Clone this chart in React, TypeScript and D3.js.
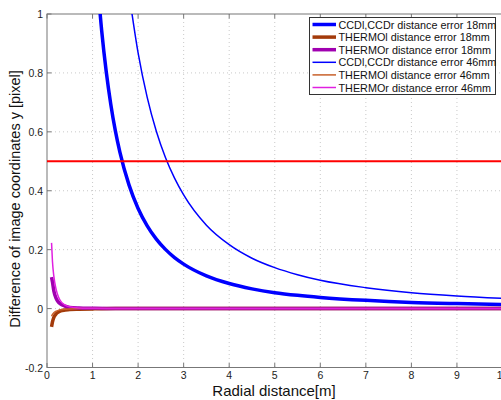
import React, { useEffect, useRef } from 'react';
import * as d3 from 'd3';

// radial distance samples [m]
const xBlue18 = [1.1, 1.2, 1.3, 1.4, 1.5, 1.6, 1.8, 2.0, 2.2, 2.4, 2.6, 2.8, 3.0, 3.5, 4.0, 4.5, 5.0, 5.5, 6.0, 7.0, 8.0, 9.0, 10];
const ccd18 = [1.124, 0.944, 0.805, 0.694, 0.604, 0.531, 0.42, 0.34, 0.281, 0.236, 0.201, 0.173, 0.151, 0.111, 0.085, 0.067, 0.054, 0.045, 0.038, 0.028, 0.021, 0.017, 0.014];

const xBlue46 = [1.8, 2.0, 2.2, 2.4, 2.6, 2.8, 3.0, 3.5, 4.0, 4.5, 5.0, 5.5, 6.0, 7.0, 8.0, 9.0, 10];
const ccd46 = [1.071, 0.868, 0.717, 0.602, 0.513, 0.443, 0.386, 0.283, 0.217, 0.171, 0.139, 0.115, 0.096, 0.071, 0.054, 0.043, 0.035];

const xThermo = [0.1, 0.12, 0.15, 0.2, 0.25, 0.3, 0.4, 0.5, 0.7, 1, 1.5, 2, 3, 5, 10];
const thermoL18 = [-0.062, -0.045, -0.03, -0.018, -0.012, -0.008, -0.005, -0.003, -0.002, -0.001, 0, 0, 0, 0, 0];
const thermoR18 = [0.107, 0.09, 0.06, 0.035, 0.022, 0.015, 0.008, 0.004, 0.002, 0.001, 0, 0, 0, 0, 0];
const thermoL46 = [-0.026, -0.02, -0.014, -0.009, -0.006, -0.004, -0.002, -0.001, 0, 0, 0, 0, 0, 0, 0];
const thermoR46 = [0.223, 0.16, 0.11, 0.065, 0.04, 0.025, 0.012, 0.006, 0.002, 0.001, 0, 0, 0, 0, 0];

const threshold = 0.5;

const xTicks = [0, 1, 2, 3, 4, 5, 6, 7, 8, 9, 10];
const yTicks = [-0.2, 0, 0.2, 0.4, 0.6, 0.8, 1];

const legendLabels = [
  'CCDl,CCDr distance error 18mm',
  'THERMOl distance error 18mm',
  'THERMOr distance error 18mm',
  'CCDl,CCDr distance error 46mm',
  'THERMOl distance error 46mm',
  'THERMOr distance error 46mm',
];

export default function App() {
  const ref = useRef<SVGSVGElement>(null);

  useEffect(() => {
    const svg = d3.select(ref.current);
    svg.selectAll('*').remove();

    const x = d3.scaleLinear().domain([0, 10]).range([47, 502.5]);
    const y = d3.scaleLinear().domain([-0.2, 1]).range([367.5, 14]);
    const font = 'Arial, "Liberation Sans", sans-serif';

    svg.append('rect').attr('width', 501).attr('height', 400).attr('fill', '#fff');

    svg.append('defs').append('clipPath').attr('id', 'plot')
      .append('rect').attr('x', 47).attr('y', 14).attr('width', 460).attr('height', 353.5);

    // grid
    const grid = svg.append('g').attr('stroke', '#bbb').attr('stroke-width', 0.8).attr('stroke-dasharray', '1,3');
    xTicks.slice(1, -1).forEach(t => {
      grid.append('line').attr('x1', x(t)).attr('x2', x(t)).attr('y1', 14).attr('y2', 367.5);
    });
    yTicks.slice(1, -1).forEach(t => {
      grid.append('line').attr('x1', 47).attr('x2', 502).attr('y1', y(t)).attr('y2', y(t));
    });

    // frame + ticks
    const ax = svg.append('g').attr('stroke', '#777').attr('stroke-width', 1).attr('fill', 'none');
    ax.append('rect').attr('x', 47).attr('y', 14).attr('width', 456).attr('height', 353.5);
    xTicks.forEach(t => {
      ax.append('line').attr('x1', x(t)).attr('x2', x(t)).attr('y1', 367.5).attr('y2', 363);
      ax.append('line').attr('x1', x(t)).attr('x2', x(t)).attr('y1', 14).attr('y2', 18.5);
    });
    yTicks.forEach(t => {
      ax.append('line').attr('x1', 47).attr('x2', 51.5).attr('y1', y(t)).attr('y2', y(t));
    });

    const labels = svg.append('g').attr('font-family', font).attr('font-size', 10.5).attr('fill', '#222');
    xTicks.forEach(t => {
      labels.append('text').attr('x', x(t)).attr('y', 379).attr('text-anchor', 'middle').text(String(t));
    });
    yTicks.forEach(t => {
      labels.append('text').attr('x', 43).attr('y', y(t) + 4).attr('text-anchor', 'end').text(String(t));
    });

    svg.append('text').attr('x', 274).attr('y', 395.5).attr('text-anchor', 'middle')
      .attr('font-family', font).attr('font-size', 15).attr('fill', '#111').text('Radial distance[m]');
    svg.append('text').attr('transform', 'translate(20,199) rotate(-90)').attr('text-anchor', 'middle')
      .attr('font-family', font).attr('font-size', 14.5).attr('fill', '#111')
      .text('Difference of image coordinates y [pixel]');

    const plot = svg.append('g').attr('clip-path', 'url(#plot)');

    const line = d3.line<[number, number]>()
      .x(d => x(d[0]))
      .y(d => y(d[1]))
      .curve(d3.curveMonotoneX);

    const series = [
      { xs: xBlue18, ys: ccd18, color: '#0000ff', w: 3.5 },
      { xs: xThermo, ys: thermoL18, color: '#a33a0a', w: 3.5 },
      { xs: xThermo, ys: thermoR18, color: '#a000b0', w: 3.5 },
      { xs: xBlue46, ys: ccd46, color: '#0000ff', w: 1.5 },
      { xs: xThermo, ys: thermoL46, color: '#c8602a', w: 1.5 },
      { xs: xThermo, ys: thermoR46, color: '#e020e0', w: 1.5 },
    ];

    series.forEach(s => {
      const pts = s.xs.map((v, i) => [v, s.ys[i]] as [number, number]);
      plot.append('path').datum(pts).attr('d', line)
        .attr('fill', 'none').attr('stroke', s.color).attr('stroke-width', s.w);
    });

    plot.append('line').attr('x1', x(0)).attr('x2', x(10)).attr('y1', y(threshold)).attr('y2', y(threshold))
      .attr('stroke', '#ff0000').attr('stroke-width', 2);

    // legend
    const lg = svg.append('g');
    lg.append('rect').attr('x', 309.5).attr('y', 17.5).attr('width', 186).attr('height', 77)
      .attr('fill', '#fff').attr('stroke', '#333').attr('stroke-width', 1);
    series.forEach((s, i) => {
      const yy = 24.5 + i * 12.6;
      lg.append('line').attr('x1', 312.5).attr('x2', 336).attr('y1', yy).attr('y2', yy)
        .attr('stroke', s.color).attr('stroke-width', s.w);
      lg.append('text').attr('x', 338.5).attr('y', yy + 4).attr('font-family', font)
        .attr('font-size', 10.8).attr('fill', '#111').text(legendLabels[i]);
    });
  }, []);

  return (
    <svg ref={ref} width={501} height={400}
      style={{ position: 'absolute', left: 0, top: 0, display: 'block' }} />
  );
}
